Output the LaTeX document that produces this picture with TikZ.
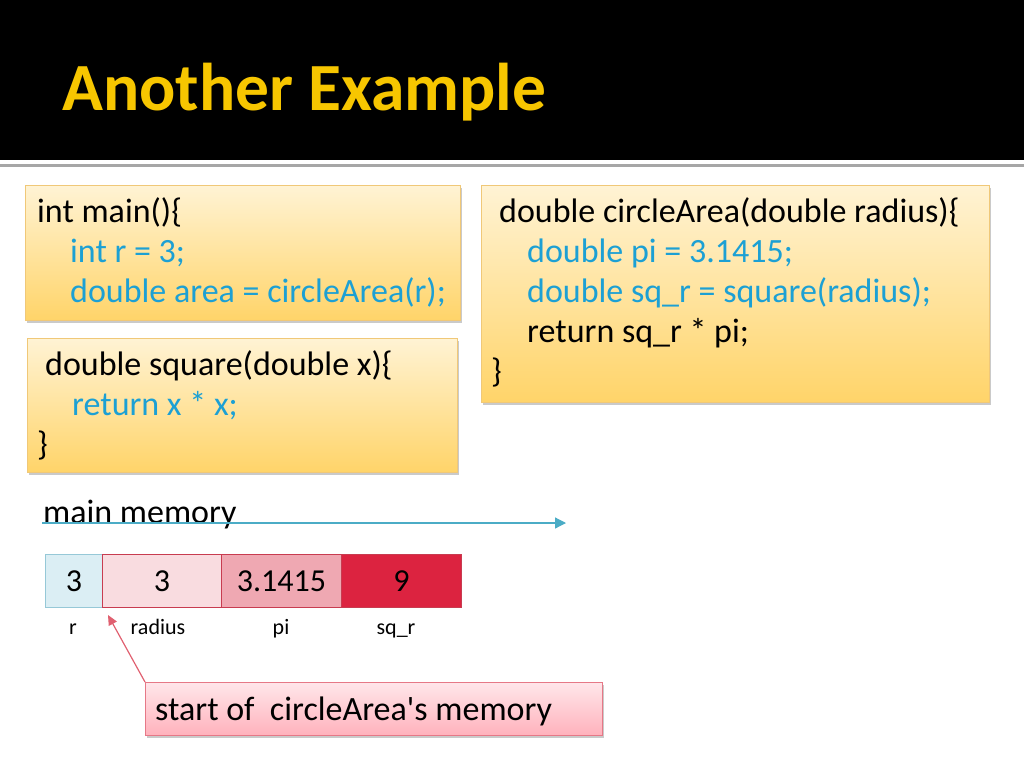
\documentclass[tikz,border=0pt]{standalone}
\usepackage{fontspec}
\setmainfont{Carlito}
\usetikzlibrary{shadows,arrows.meta}
\definecolor{titleyellow}{RGB}{247,198,0}
\definecolor{codeblue}{RGB}{28,160,212}
\definecolor{boxtop}{RGB}{255,243,212}
\definecolor{boxbot}{RGB}{255,212,105}
\definecolor{boxedge}{RGB}{240,200,120}
\definecolor{cellblue}{RGB}{219,238,244}
\definecolor{cellblueedge}{RGB}{150,200,215}
\definecolor{cellpink}{RGB}{249,220,224}
\definecolor{cellrose}{RGB}{239,168,178}
\definecolor{cellred}{RGB}{220,35,64}
\definecolor{celledge}{RGB}{200,60,80}
\definecolor{memteal}{RGB}{75,172,198}
\definecolor{calltop}{RGB}{255,230,234}
\definecolor{callbot}{RGB}{255,178,188}
\definecolor{calledge}{RGB}{230,120,135}
\definecolor{callarrow}{RGB}{224,96,112}
\begin{document}
\begin{tikzpicture}[x=1pt,y=-1pt,
  codebox/.style={draw=boxedge, line width=0.8pt, top color=boxtop, bottom color=boxbot,
    anchor=north west, inner sep=0pt,
    drop shadow={shadow xshift=2pt, shadow yshift=-3pt, opacity=0.35, fill=black!60}},
  codetxt/.style={anchor=base west, inner sep=0pt, font=\fontsize{34}{40}\selectfont},
  codeblk/.style={codetxt, text=black},
  codeblu/.style={codetxt, text=codeblue},
  cell/.style={draw=celledge, line width=0.8pt, anchor=north west, minimum height=53pt,
    inner sep=0pt, font=\fontsize{32}{36}\selectfont},
  celllbl/.style={anchor=base, inner sep=0pt, font=\fontsize{22}{26}\selectfont},
]
\useasboundingbox (0,0) rectangle (1024,768);
\fill[black] (0,0) rectangle (1024,160);
\draw[black!35, line width=3pt] (0,165) -- (1024,165);
\node[anchor=base west, inner sep=0pt, text=titleyellow,
  font=\bfseries\fontsize{67.5}{72}\selectfont] (title) at (62,110) {Another Example};

% main box
\node[codebox, minimum width=435pt, minimum height=135pt] (mainbox) at (25,185) {};
\node[codeblk] (m1) at (37,222) {int main()\{};
\node[codeblu] (m2) at (70,262) {int r = 3;};
\node[codeblu] (m3) at (70,302) {double area = circleArea(r);};

% square box
\node[codebox, minimum width=430pt, minimum height=134pt] (sqbox) at (27,338) {};
\node[codeblk] (s1) at (45,375) {double square(double x)\{};
\node[codeblu] (s2) at (72,415) {return x * x;};
\node[codeblk] (s3) at (37,455) {\}};

% circleArea box
\node[codebox, minimum width=508pt, minimum height=217pt] (cabox) at (481,185) {};
\node[codeblk] (c1) at (499,222) {double circleArea(double radius)\{};
\node[codeblu] (c2) at (527,262) {double pi = 3.1415;};
\node[codeblu] (c3) at (527,302) {double sq\_r = square(radius);};
\node[codeblk] (c4) at (527,342) {return sq\_r * pi;};
\node[codeblk] (c5) at (491,382) {\}};

% main memory
\node[codeblk] (memlbl) at (43,523) {main memory};
\coordinate (memstart) at (42,523);
\coordinate (memend) at (566,523);
\draw[memteal, line width=1.2pt, -{Triangle[length=11pt,width=11pt]}] (memstart) -- (memend);

\node[cell, draw=cellblueedge, fill=cellblue, minimum width=57pt] (cr) at (45,554) {3};
\node[cell, fill=cellpink, minimum width=119pt] (cradius) at (102,554) {3};
\node[cell, fill=cellrose, minimum width=120pt] (cpi) at (221,554) {3.1415};
\node[cell, fill=cellred, minimum width=120pt] (csq) at (341,554) {9};

\node[celllbl] (lr) at (73,634) {r};
\node[celllbl] (lradius) at (158,634) {radius};
\node[celllbl] (lpi) at (281,634) {pi};
\node[celllbl] (lsq) at (396,634) {sq\_r};

% callout
\node[draw=calledge, line width=0.8pt, top color=calltop, bottom color=callbot,
  anchor=north west, minimum width=457pt, minimum height=53pt, inner sep=0pt,
  drop shadow={shadow xshift=2pt, shadow yshift=-3pt, opacity=0.35, fill=black!60}]
  (callout) at (145,682) {};
\node[codeblk] (calltxt) at (155,720) {start of\ \ circleArea\textquotesingle s memory};
\coordinate (calltip) at (108,615);
\draw[callarrow, line width=1.2pt, -{Triangle[length=10pt,width=9pt]}] (callout.north west) -- (calltip);
\end{tikzpicture}
\end{document}
